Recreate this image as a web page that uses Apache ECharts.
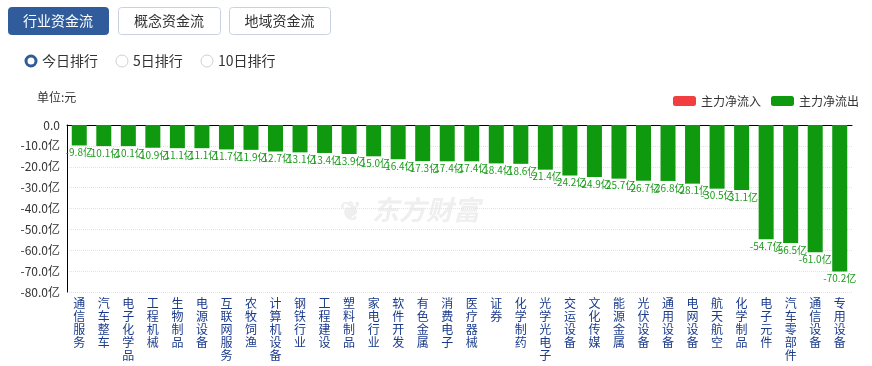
<!DOCTYPE html>
<html>
<head>
<meta charset="utf-8">
<script src="https://cdn.jsdelivr.net/npm/echarts@6/dist/echarts.min.js"></script>
<style>
html,body{margin:0;padding:0;background:#fff;}
#c{width:872px;height:366px;}
</style>
</head>
<body>
<div id="c"></div>
<script>
const categories = ['通信服务','汽车整车','电子化学品','工程机械','生物制品','电源设备','互联网服务','农牧饲渔','计算机设备','钢铁行业','工程建设','塑料制品','家电行业','软件开发','有色金属','消费电子','医疗器械','证券','化学制药','光学光电子','交运设备','文化传媒','能源金属','光伏设备','通用设备','电网设备','航天航空','化学制品','电子元件','汽车零部件','通信设备','专用设备'];
const outflow = [-9.8,-10.1,-10.1,-10.9,-11.1,-11.1,-11.7,-11.9,-12.7,-13.1,-13.4,-13.9,-15.0,-16.4,-17.3,-17.4,-17.4,-18.4,-18.6,-21.4,-24.2,-24.9,-25.7,-26.7,-26.8,-28.1,-30.5,-31.1,-54.7,-56.5,-61.0,-70.2];
const yTicks = [0,-10,-20,-30,-40,-50,-60,-70,-80];
const tabs = ['行业资金流','概念资金流','地域资金流'];
const radios = ['今日排行','5日排行','10日排行'];
const legendNames = ['主力净流入','主力净流出'];

const chart = echarts.init(document.getElementById('c'));
const font = '"Microsoft YaHei","Noto Sans CJK SC",sans-serif';

const graphics = [];
const tabX = [8,118,229], tabW = [100,102,101];
tabs.forEach((t,i)=>{
  graphics.push({type:'rect', left:tabX[i], top:7, shape:{width:tabW[i], height:27, r:3},
    style:{fill:i===0?'#305c9c':'#fff', stroke:i===0?'#305c9c':'#c9d3e0', lineWidth:1}});
  graphics.push({type:'text', x:tabX[i]+tabW[i]/2, y:21, style:{text:t, fill:i===0?'#fff':'#333', font:'14px '+font, textAlign:'center', textVerticalAlign:'middle'}});
});
const rX = [31,122,207];
radios.forEach((t,i)=>{
  if(i===0){
    graphics.push({type:'circle', shape:{cx:rX[i], cy:61, r:5}, style:{fill:'#fff', stroke:'#2f5b9b', lineWidth:3}});
  } else {
    graphics.push({type:'circle', shape:{cx:rX[i], cy:61, r:6}, style:{fill:'#fff', stroke:'#cfcfcf', lineWidth:1}});
  }
  graphics.push({type:'text', x:rX[i]+11, y:61, style:{text:t, fill:'#333', font:'14px '+font, textVerticalAlign:'middle'}});
});
graphics.push({type:'text', x:37, y:97, style:{text:'单位:元', fill:'#333', font:'12px '+font, textVerticalAlign:'middle'}});
graphics.push({type:'text', x:372, y:210, z:-1, style:{text:'东方财富', fill:'#efefef', font:'italic bold 27px '+font, textVerticalAlign:'middle'}});
graphics.push({type:'text', x:340, y:210, z:-1, style:{text:'❦', fill:'#efefef', font:'bold 26px '+font, textVerticalAlign:'middle'}});

chart.setOption({
  animation:false,
  graphic:graphics,
  legend:{right:8, top:90, itemWidth:23, itemHeight:10, itemGap:10, icon:'roundRect',
    textStyle:{fontSize:12, color:'#333', fontFamily:font}, data:legendNames},
  grid:{left:67, right:20, top:125, bottom:74, containLabel:false},
  xAxis:[{
    type:'category', data:categories, position:'bottom',
    axisLine:{show:false, onZero:false}, axisTick:{show:false},
    axisLabel:{interval:0, margin:5, color:'#1a3a8c', fontSize:12, lineHeight:13, fontFamily:font,
      verticalAlign:'top', formatter:v=>v.split('').join('\n')}
  },{
    type:'category', data:categories, position:'top',
    axisLine:{show:true, onZero:false, lineStyle:{color:'#000', width:1}}, axisTick:{show:false}, axisLabel:{show:false}
  }],
  yAxis:{type:'value', min:-80, max:0, interval:10,
    axisLine:{show:true, lineStyle:{color:'#000'}}, axisTick:{show:false},
    splitLine:{show:true, lineStyle:{color:'#e3e3e3', type:'dotted'}},
    axisLabel:{color:'#333', fontSize:12, margin:7, fontFamily:font, formatter:v=>v===0?'0.0':v.toFixed(1)+'亿'}
  },
  series:[
    {name:legendNames[0], type:'bar', data:[], itemStyle:{color:'#f23e3e'}},
    {name:legendNames[1], type:'bar', data:outflow, barWidth:15, barGap:'-100%', itemStyle:{color:'#0f990f'},
      label:{show:true, position:'bottom', distance:2, color:'#1e9a1e', fontSize:10, fontFamily:font,
        formatter:p=>p.value.toFixed(1)+'亿'}}
  ]
});
</script>
</body>
</html>
